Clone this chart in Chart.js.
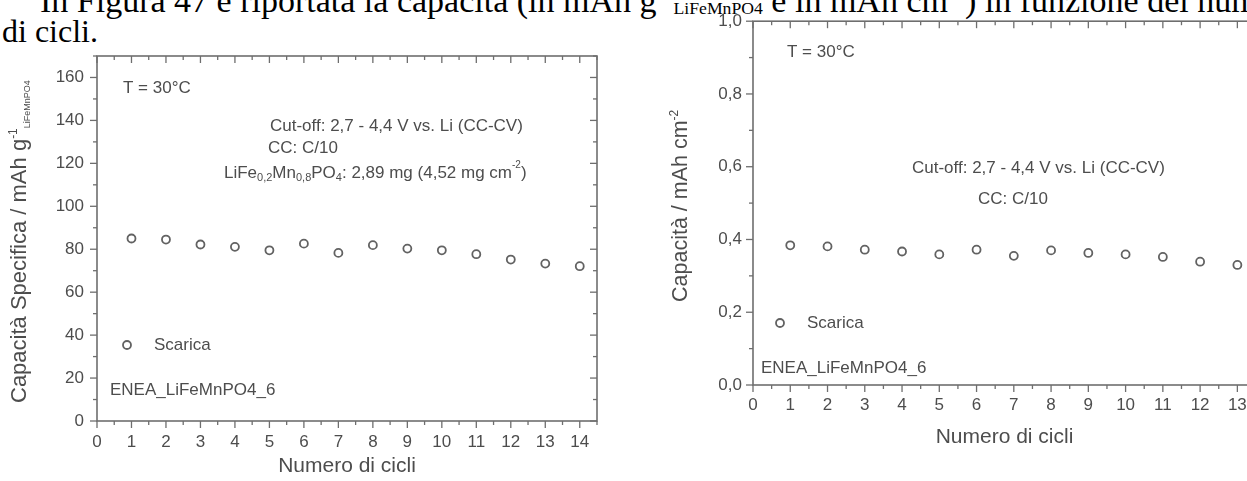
<!DOCTYPE html>
<html><head><meta charset="utf-8">
<script src="https://cdn.jsdelivr.net/npm/chart.js@4.4.0/dist/chart.umd.min.js"></script>
<style>
html,body{margin:0;padding:0;width:1247px;height:481px;overflow:hidden;background:#fff;}
#doc{position:absolute;left:0;top:0;width:1247px;height:481px;overflow:hidden;}
.t{position:absolute;white-space:nowrap;font-family:"Liberation Serif","Times New Roman",serif;font-size:32px;color:#000;line-height:1;}
.t sup{font-size:0.6em;line-height:0;}
.t sub{font-size:0.52em;line-height:0;vertical-align:-0.1em;}
canvas{position:absolute;top:0;filter:blur(0.35px);}
#c1{left:0;}
#c2{left:640px;}
</style></head><body>
<div id="doc">
<div class="t" style="left:40px;top:-16px;font-size:34px">In Figura 47 è riportata la capacità (in mAh g<sup>-1</sup><sub>LiFeMnPO4</sub> e in mAh cm<sup>-2</sup>) in funzione del numero</div>
<div class="t" style="left:2px;top:15px">di cicli.</div>
<canvas id="c1" width="640" height="481" style="width:640px;height:481px"></canvas>
<canvas id="c2" width="640" height="481" style="width:640px;height:481px"></canvas>
</div>
<script>
// ---- data ----
const cycles = [1,2,3,4,5,6,7,8,9,10,11,12,13,14];
const specificCapacity = [85.0,84.5,82.2,81.1,79.5,82.6,78.3,81.9,80.3,79.5,77.7,75.2,73.3,72.1];
const arealCapacity = [0.384,0.381,0.372,0.367,0.359,0.372,0.355,0.370,0.363,0.359,0.352,0.339,0.330,0.326];
const xTickLabels = ['0','1','2','3','4','5','6','7','8','9','10','11','12','13','14'];
const yTickLabelsSpecific = ['0','20','40','60','80','100','120','140','160'];
const yTickLabelsAreal = ['0,0','0,2','0,4','0,6','0,8','1,0'];

const FONT = '"Liberation Sans", Arial, sans-serif';
const TXT = '#4d4d4d';
const AX = '#6e6e6e';
const PT = '#626262';

function drawRuns(ctx, x, y, runs){
  for (const r of runs){
    const [t, k, s] = r;
    ctx.font = s + 'px ' + FONT;
    let dy = 0;
    if (k === 'sup') dy = -s*0.75;
    if (k === 'sub') dy = s*0.45;
    ctx.fillText(t, x, y + dy);
    x += ctx.measureText(t).width;
  }
}

const framePlugin = {
  id: 'frame',
  afterDatasetsDraw(chart, args, o){
    const ctx = chart.ctx, a = chart.chartArea, xs = chart.scales.x, ys = chart.scales.y;
    ctx.save();
    ctx.strokeStyle = AX; ctx.lineWidth = 1.6;
    ctx.strokeRect(a.left, a.top, a.right - a.left, a.bottom - a.top);
    ctx.lineWidth = 1.3;
    const ln = (x1,y1,x2,y2)=>{ctx.beginPath();ctx.moveTo(x1,y1);ctx.lineTo(x2,y2);ctx.stroke();};
    const isMajor = (v, m)=>Math.abs(v/m - Math.round(v/m)) < 1e-6;
    for (let i = 0; ; i++){
      const v = xs.min + i*o.xMinor; if (v > xs.max + 1e-9) break;
      const p = xs.getPixelForValue(v); const L = isMajor(v, o.xMajor) ? 7 : 4;
      ln(p, a.bottom, p, a.bottom + L); ln(p, a.top, p, a.top + L);
    }
    for (let i = 0; ; i++){
      const v = ys.min + i*o.yMinor; if (v > ys.max + 1e-9) break;
      const p = ys.getPixelForValue(v); const L = isMajor(v, o.yMajor) ? 7 : 4;
      ln(a.left, p, a.left - L, p); ln(a.right, p, a.right - L, p);
    }
    ctx.restore();
  }
};

const notesPlugin = {
  id: 'notes',
  afterDatasetsDraw(chart, args, o){
    const ctx = chart.ctx;
    ctx.save();
    ctx.fillStyle = TXT;
    ctx.textBaseline = 'middle';
    ctx.textAlign = 'left';
    for (const n of o.notes) drawRuns(ctx, n.x, n.y, n.runs);
    // legend
    const lg = o.legend;
    ctx.strokeStyle = PT; ctx.lineWidth = 1.8;
    ctx.beginPath(); ctx.arc(lg.x, lg.y, 4, 0, Math.PI*2); ctx.stroke();
    drawRuns(ctx, lg.tx, lg.y, [[lg.text, 'n', 17]]);
    // y title
    const yt = o.ytitle;
    ctx.translate(yt.x, yt.y); ctx.rotate(-Math.PI/2);
    ctx.textBaseline = 'alphabetic';
    drawRuns(ctx, 0, 0, yt.runs);
    ctx.restore();
  }
};

function makeChart(id, cfg){
  return new Chart(document.getElementById(id), {
    type: 'scatter',
    data: { datasets: [{
      data: cfg.xs.map((x, i) => ({x, y: cfg.ys[i]})),
      pointRadius: 4, pointBorderWidth: 1.8, pointBorderColor: PT,
      pointBackgroundColor: 'rgba(0,0,0,0)', showLine: false
    }]},
    options: {
      responsive: false, animation: false, events: [],
      layout: { padding: cfg.pad },
      plugins: { legend: {display:false}, tooltip: {enabled:false},
        frame: cfg.frame, notes: cfg.notes },
      scales: {
        x: { type:'linear', min:0, max:cfg.xmax,
          afterFit(s){ s.height = cfg.xh; },
          grid:{display:false, drawTicks:false}, border:{display:false},
          ticks:{ stepSize:1, includeBounds:false, autoSkip:false, maxRotation:0, padding:cfg.xpad,
            color:TXT, font:{family:FONT, size:17}, callback:(v,i)=>xTickLabels[i] },
          title:{ display:true, text:'Numero di cicli', color:TXT, font:{family:FONT, size:21},
            padding:{top:0, bottom:cfg.tpad} } },
        y: { type:'linear', min:0, max:cfg.ymax,
          afterFit(s){ s.width = cfg.yw; },
          grid:{display:false, drawTicks:false}, border:{display:false},
          ticks:{ stepSize:cfg.ystep, includeBounds:false, autoSkip:false, padding:cfg.ypad,
            color:TXT, font:{family:FONT, size:17}, callback:(v,i)=>cfg.ylabels[i] } }
      }
    },
    plugins: [framePlugin, notesPlugin]
  });
}

makeChart('c1', {
  xs: cycles, ys: specificCapacity, xmax: 14.5, ymax: 170, ystep: 20, ylabels: yTickLabelsSpecific,
  pad: {left:0, top:56, right:43, bottom:0}, xh: 60, yw: 97, xpad: 11, ypad: 13, tpad: 2,
  frame: {xMajor:1, xMinor:0.5, yMajor:20, yMinor:10},
  notes: {
    notes: [
      {x:123, y:88, runs:[['T = 30°C','n',17]]},
      {x:270, y:126, runs:[['Cut-off: 2,7 - 4,4 V vs. Li (CC-CV)','n',17]]},
      {x:268, y:148, runs:[['CC: C/10','n',17]]},
      {x:224, y:173, runs:[['LiFe','n',17],['0,2','sub',11],['Mn','n',17],['0,8','sub',11],['PO','n',17],['4','sub',11],[': 2,89 mg (4,52 mg cm','n',17],['-2','sup',10],[')','n',17]]},
      {x:110, y:390, runs:[['ENEA_LiFeMnPO4_6','n',17]]}
    ],
    legend: {x:127, y:345, tx:154, text:'Scarica'},
    ytitle: {x:26, y:403, runs:[['Capacità Specifica / mAh g','n',22],['-1','sup',12],['LiFeMnPO4','sub',9]]}
  }
});

makeChart('c2', {
  xs: cycles, ys: arealCapacity, xmax: 13.5, ymax: 1.0, ystep: 0.2, ylabels: yTickLabelsAreal,
  pad: {left:0, top:20, right:24, bottom:0}, xh: 96, yw: 113, xpad: 10, ypad: 11, tpad: 31,
  frame: {xMajor:1, xMinor:0.5, yMajor:0.2, yMinor:0.1},
  notes: {
    notes: [
      {x:147, y:52, runs:[['T = 30°C','n',17]]},
      {x:272, y:168, runs:[['Cut-off: 2,7 - 4,4 V vs. Li (CC-CV)','n',17]]},
      {x:338, y:199, runs:[['CC: C/10','n',17]]},
      {x:121, y:368, runs:[['ENEA_LiFeMnPO4_6','n',17]]}
    ],
    legend: {x:140, y:323, tx:167, text:'Scarica'},
    ytitle: {x:47, y:302, runs:[['Capacità / mAh cm','n',21.5],['-2','sup',12]]}
  }
});
</script>
</body></html>
